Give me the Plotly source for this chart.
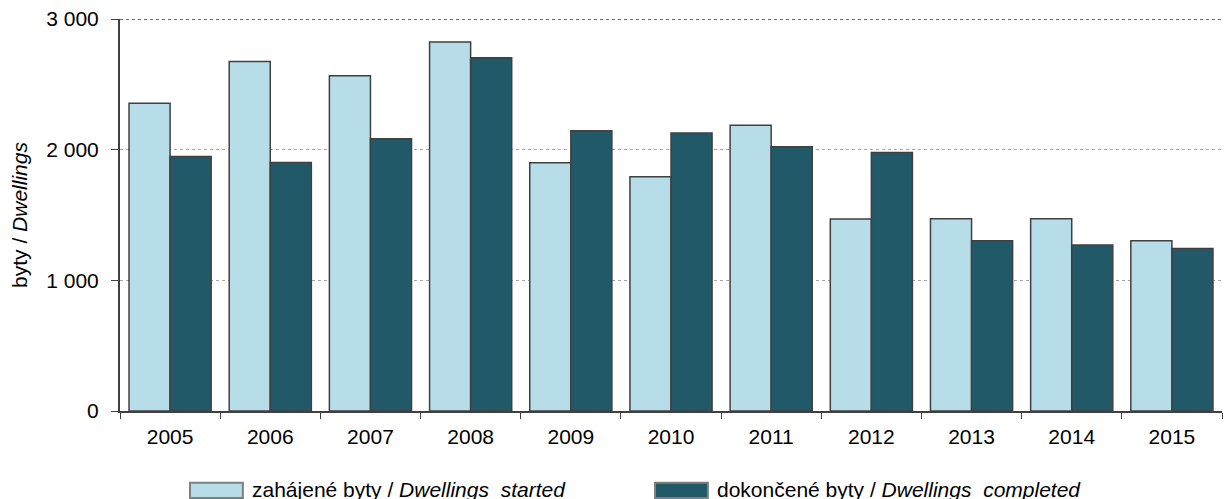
import plotly.graph_objects as go

years = ["2005", "2006", "2007", "2008", "2009", "2010", "2011", "2012", "2013", "2014", "2015"]
started = [2355, 2674, 2566, 2824, 1900, 1792, 2187, 1470, 1471, 1471, 1302]
completed = [1947, 1901, 2084, 2704, 2145, 2128, 2023, 1978, 1302, 1271, 1244]

name_started = "zahájené byty / <i>Dwellings  started</i>"
name_completed = "dokončené byty / <i>Dwellings  completed</i>"

light = "#b7dde8"
dark = "#215968"
edge = "#404040"
font_family = "Liberation Sans, Arial, sans-serif"
fs = 21

fig = go.Figure()
fig.add_trace(go.Bar(x=years, y=started, name=name_started, marker=dict(color=light, line=dict(color=edge, width=1.5))))
fig.add_trace(go.Bar(x=years, y=completed, name=name_completed, marker=dict(color=dark, line=dict(color=edge, width=1.5))))

# page body has an 8px margin: compensate so the plot lands where the reference has it
fig.update_layout(
    width=1231, height=499,
    margin=dict(l=112, r=17, t=11, b=96),
    plot_bgcolor="white", paper_bgcolor="white",
    barmode="group", bargap=0.18, bargroupgap=0,
    showlegend=False,
    separators=", ",
    font=dict(family=font_family, size=fs, color="#000000"),
)
fig.update_xaxes(
    type="category", tickson="boundaries", ticks="outside", ticklen=6, tickcolor=edge,
    ticklabelstandoff=6, automargin=False, ticklabeloverflow="allow",
    showline=True, linecolor=edge, linewidth=2, showgrid=False,
    tickfont=dict(size=fs),
)
fig.update_yaxes(
    range=[0, 3000], tickvals=[0, 1000, 2000, 3000], tickformat=",d",
    ticks="outside", ticklen=7, tickcolor=edge, ticklabelstandoff=8,
    automargin=False, ticklabeloverflow="allow",
    showline=True, linecolor=edge, linewidth=2,
    showgrid=True, gridcolor="#a6a6a6", gridwidth=1, griddash="dot",
    zeroline=False,
    title=dict(text="byty / <i>Dwellings</i>", standoff=16, font=dict(size=fs)),
    tickfont=dict(size=fs),
)

# darker dotted line along the top of the plot area
fig.add_shape(type="line", xref="paper", yref="y", x0=0, x1=1, y0=3000, y1=3000,
              line=dict(color="#6f6f6f", width=2, dash="dot"))

# custom legend with wide rectangular swatches
legend_items = [(name_started, light, 0.0635), (name_completed, dark, 0.4855)]
for label, color, x0 in legend_items:
    fig.add_shape(type="rect", xref="paper", yref="paper",
                  x0=x0, x1=x0 + 0.048, y0=-0.222, y1=-0.183,
                  fillcolor=color, line=dict(color="#7f7f7f", width=2))
    fig.add_annotation(xref="paper", yref="paper", x=x0 + 0.0545, y=-0.201,
                       text=label, showarrow=False, xanchor="left", yanchor="middle",
                       font=dict(size=fs))

fig.write_html("out.html")
